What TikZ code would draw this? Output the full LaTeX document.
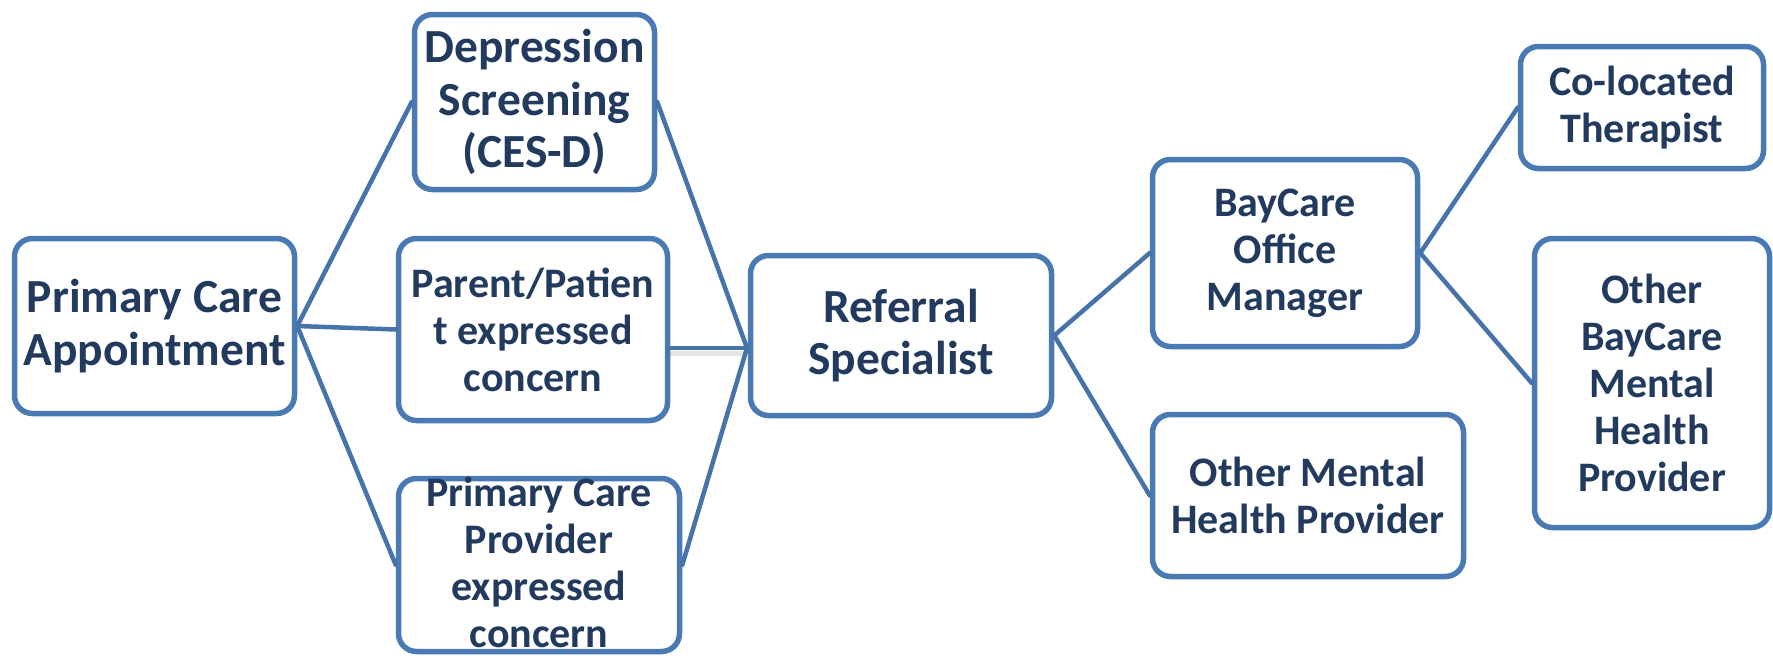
\documentclass[tikz,border=0pt]{standalone}
\usepackage{fontspec}
\setmainfont{Carlito}
\definecolor{boxblue}{RGB}{74,122,180}
\definecolor{linkblue}{RGB}{70,115,170}
\definecolor{navy}{RGB}{33,58,94}
\begin{document}
\begin{tikzpicture}[x=1pt,y=-1pt,
  box/.style={draw=boxblue, line width=5.5pt, rounded corners=18pt, fill=white, inner sep=0pt},
  big/.style={text=navy, align=center, inner sep=0pt, font=\bfseries\fontsize{47.5}{52.5}\selectfont},
  small/.style={text=navy, align=center, inner sep=0pt, font=\bfseries\fontsize{42}{47}\selectfont},
  link/.style={draw=linkblue, line width=4.5pt, line cap=round}]
\useasboundingbox (0,0) rectangle (1773,656);

% boxes
\node[box, minimum width=280, minimum height=175] (pca) at (154.5,326) {};
\node[box, minimum width=240, minimum height=175] (dep) at (534.5,102) {};
\node[box, minimum width=269, minimum height=182] (par) at (533,329.5) {};
\node[box, minimum width=281, minimum height=173] (pcp) at (539,565) {};
\node[box, minimum width=301, minimum height=160] (ref) at (901,335.5) {};
\node[box, minimum width=265, minimum height=187] (bom) at (1285,253) {};
\node[box, minimum width=311, minimum height=162] (omh) at (1308,495.5) {};
\node[box, minimum width=243, minimum height=122] (col) at (1642,107.5) {};
\node[box, minimum width=235, minimum height=289] (obm) at (1652,383) {};

% labels
\node[big]   (pcaT) at (pca) {Primary Care\\Appointment};
\node[big]   (depT) at (dep) {Depression\\Screening\\(CES-D)};
\node[small] (parT) at (par) {Parent/Patien\\t expressed\\concern};
\node[small] (pcpT) at ([yshift=3pt]pcp.center) {Primary Care\\Provider\\expressed\\concern};
\node[big]   (refT) at (ref) {Referral\\Specialist};
\node[small] (bomT) at (bom) {BayCare\\Office\\Manager};
\node[small] (omhT) at (omh) {Other Mental\\Health Provider};
\node[small] (colT) at (col) {Co-located\\Therapist};
\node[small] (obmT) at (obm) {Other\\BayCare\\Mental\\Health\\Provider};

% where the three inputs meet on the referral box
\coordinate (meet) at (747,348);

% connectors
\draw[link] (pca.east) -- (dep.west);
\draw[link] (pca.east) -- (par.west);
\draw[link] (pca.east) -- (pcp.west);
\draw[line width=5pt, draw=black, opacity=0.10] ([yshift=-5pt]par.east |- meet) -- ([yshift=-5pt]meet);
\draw[link] (dep.east) -- (meet);
\draw[link] (par.east |- meet) -- (meet);
\draw[link] (pcp.east) -- (meet);
\draw[link] (ref.east) -- (bom.west);
\draw[link] (ref.east) -- (omh.west);
\draw[link] (bom.east) -- (col.west);
\draw[link] (bom.east) -- (obm.west);
\end{tikzpicture}
\end{document}
